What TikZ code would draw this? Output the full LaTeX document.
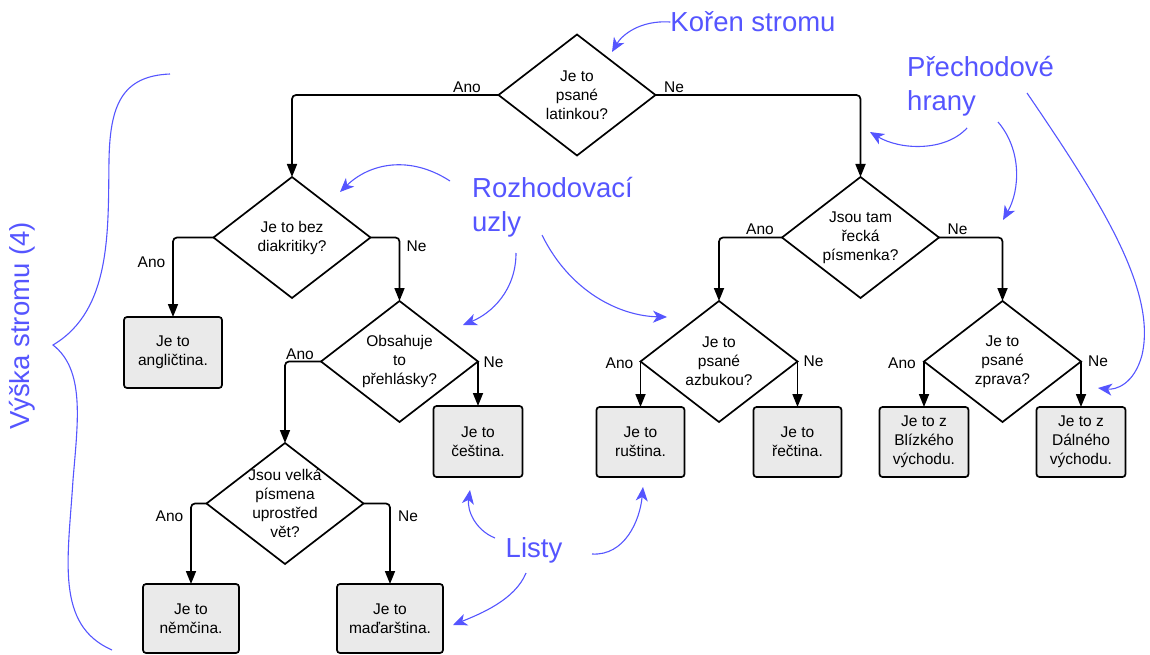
\documentclass[tikz,border=0pt]{standalone}
\usepackage{fontspec}
\setmainfont{Liberation Sans}
\usetikzlibrary{shapes.geometric,arrows.meta}
\definecolor{annot}{RGB}{85,85,255}
\definecolor{leafgray}{RGB}{234,234,234}
\tikzset{
  dec/.style={draw, diamond, aspect=1.3, inner sep=-8pt, outer sep=0pt,
    minimum width=157pt, minimum height=121pt, line width=1.7pt,
    align=center, font=\fontsize{15.5}{19}\selectfont},
  leaf/.style={draw, rectangle, rounded corners=3pt, fill=leafgray,
    inner sep=0pt, outer sep=0pt, line width=1.7pt,
    align=center, font=\fontsize{15.5}{19}\selectfont},
  lbl/.style={inner sep=0pt, font=\fontsize{15.5}{19}\selectfont},
  note/.style={text=annot, inner sep=0pt, align=left,
    font=\fontsize{27.5}{34}\selectfont},
  hint/.style={draw=annot, line width=1.1pt,
    -{Stealth[length=14pt,width=12pt,inset=4pt]}}
}
\begin{document}
\begin{tikzpicture}[x=1pt,y=-1pt]
  \useasboundingbox (0,0) rectangle (1150,655);
  \node[dec] (root) at (577,95) {Je to\\psané\\latinkou?};
  \node[dec] (bez) at (292,237.5) {Je to bez\\diakritiky?};
  \node[dec] (uml) at (399.5,361.5) {Obsahuje\\to\\přehlásky?};
  \node[dec] (caps) at (285,503.5) {Jsou velká\\písmena\\uprostřed\\vět?};
  \node[dec] (greek) at (860.5,237.5) {Jsou tam\\řecká\\písmenka?};
  \node[dec] (cyr) at (719,361.5) {Je to\\psané\\azbukou?};
  \node[dec] (rtl) at (1002.5,361.5) {Je to\\psané\\zprava?};
  \node[leaf, minimum width=98pt, minimum height=71pt] (eng) at (173,352.5) {Je to\\angličtina.};
  \node[leaf, minimum width=89pt, minimum height=71pt] (cze) at (478,441.5) {Je to\\čeština.};
  \node[leaf, minimum width=96pt, minimum height=69pt] (ger) at (191,618.5) {Je to\\němčina.};
  \node[leaf, minimum width=106pt, minimum height=69pt] (hun) at (390,618.5) {Je to\\maďarština.};
  \node[leaf, minimum width=88pt, minimum height=70pt] (rus) at (640.5,442) {Je to\\ruština.};
  \node[leaf, minimum width=88pt, minimum height=70pt] (gre) at (797.5,442) {Je to\\řečtina.};
  \node[leaf, minimum width=89pt, minimum height=70pt] (near) at (924,442) {Je to z\\Blízkého\\východu.};
  \node[leaf, minimum width=89pt, minimum height=70pt] (far) at (1081,442) {Je to z\\Dálného\\východu.};
  \begin{scope}[line width=1.7pt, rounded corners=4pt, -{Triangle[length=13pt,width=10pt]}]
    \draw (root.west) -| (bez.north);
    \draw (root.east) -| (greek.north);
    \draw (bez.west) -| (eng.north);
    \draw (bez.east) -| (uml.north);
    \draw (uml.west) -| (caps.north);
    \draw (uml.east) -- (cze.north);
    \draw (caps.west) -| (ger.north);
    \draw (caps.east) -| (hun.north);
    \draw (greek.west) -| (cyr.north);
    \draw (greek.east) -| (rtl.north);
    \draw (cyr.west) -- (rus.north);
    \draw (cyr.east) -- (gre.north);
    \draw (rtl.west) -- (near.north);
    \draw (rtl.east) -- (far.north);
  \end{scope}
  \node[lbl] (a1) at (467,87) {Ano};
  \node[lbl] (n1) at (674,87) {Ne};
  \node[lbl] (a2) at (151.5,262.5) {Ano};
  \node[lbl] (n2) at (416.5,246.5) {Ne};
  \node[lbl] (a3) at (300,354) {Ano};
  \node[lbl] (n3) at (493.5,362) {Ne};
  \node[lbl] (a4) at (169.5,516) {Ano};
  \node[lbl] (n4) at (408,516) {Ne};
  \node[lbl] (a5) at (760,229.5) {Ano};
  \node[lbl] (n5) at (957.5,229.5) {Ne};
  \node[lbl] (a6) at (619.5,363.5) {Ano};
  \node[lbl] (n6) at (813.5,361.5) {Ne};
  \node[lbl] (a7) at (902,363.5) {Ano};
  \node[lbl] (n7) at (1098,361.5) {Ne};
  \node[note] (koren) at (753,22) {Kořen stromu};
  \node[note, anchor=west] (rozh) at (472,207) {Rozhodovací\\uzly};
  \node[note, anchor=west] (prech) at (907,86) {Přechodové\\hrany};
  \node[note] (listy) at (534,550) {Listy};
  \node[note, rotate=90] (vyska) at (22,326) {Výška stromu (4)};
  \coordinate (k0) at (612,52);
  \coordinate (r1a) at (450,181);
  \coordinate (r1b) at (340,192);
  \coordinate (r2a) at (516,253);
  \coordinate (r2b) at (463,325);
  \coordinate (r3a) at (542,235);
  \coordinate (r3b) at (667,317);
  \coordinate (p1a) at (967,128);
  \coordinate (p1b) at (870,132);
  \coordinate (p2a) at (998,122);
  \coordinate (p2b) at (1003,220);
  \coordinate (p3a) at (1027,93);
  \coordinate (p3b) at (1098,388);
  \coordinate (l1a) at (495,538);
  \coordinate (l1b) at (470,490);
  \coordinate (l2a) at (592,554);
  \coordinate (l2b) at (643,487);
  \coordinate (l3a) at (526,573);
  \coordinate (l3b) at (453,625);
  \draw[hint] (koren.west) .. controls (640,20) and (622,35) .. (k0);
  \draw[hint] (r1a) .. controls (410,155) and (370,163) .. (r1b);
  \draw[hint] (r2a) .. controls (516,290) and (492,313) .. (r2b);
  \draw[hint] (r3a) .. controls (570,292) and (620,316) .. (r3b);
  \draw[hint] (p1a) .. controls (945,152) and (900,150) .. (p1b);
  \draw[hint] (p2a) .. controls (1022,150) and (1020,190) .. (p2b);
  \draw[hint] (p3a) .. controls (1100,200) and (1157,290) .. (1142,355)
    .. controls (1134,385) and (1115,390) .. (p3b);
  \draw[hint] (l1a) .. controls (475,530) and (467,510) .. (l1b);
  \draw[hint] (l2a) .. controls (625,556) and (640,520) .. (l2b);
  \draw[hint] (l3a) .. controls (515,600) and (480,614) .. (l3b);
  \draw[annot, line width=1.1pt] (170,74) .. controls (122,76) and (110,105) .. (109,160)
    .. controls (108,230) and (112,310) .. (53,345)
    .. controls (85,370) and (78,420) .. (73,480)
    .. controls (68,560) and (55,625) .. (112,650);
\end{tikzpicture}
\end{document}
